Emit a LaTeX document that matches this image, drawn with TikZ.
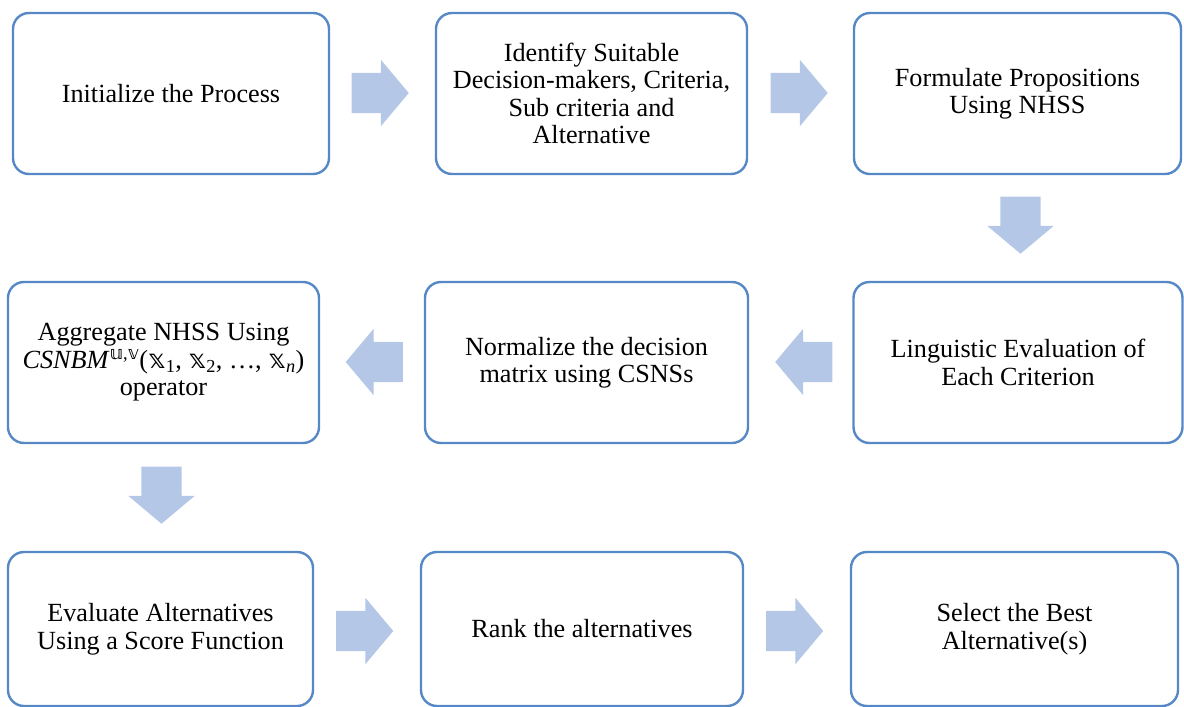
\documentclass[tikz,border=0pt]{standalone}
\usepackage{fontspec}
\setmainfont{Liberation Serif}
\newfontfamily\dblfont{DejaVu Sans}
\usepackage{xcolor}
\usetikzlibrary{shapes.arrows}

\definecolor{boxline}{RGB}{86,136,198}
\definecolor{arrowfill}{RGB}{180,199,231}

\newcommand{\dbl}[1]{{\dblfont #1}}

\begin{document}
\begin{tikzpicture}[
  x=1pt, y=-1pt,
  font=\fontsize{26.2}{27.5}\selectfont,
  stepbox/.style={draw=boxline, line width=2.4pt, rounded corners=16pt, align=center, inner sep=0pt, minimum height=161pt},
  blockarrow/.style={single arrow, draw=none, fill=arrowfill, anchor=tip, minimum height=57pt, minimum width=66pt, single arrow head extend=13pt, single arrow tip angle=100},
  harrow/.style={blockarrow, inner xsep=0pt, inner ysep=20pt},
  varrow/.style={blockarrow, inner xsep=20pt, inner ysep=0pt, shape border rotate=270}
]
\useasboundingbox (0,0) rectangle (1184,707);

% row 1
\node[stepbox, minimum width=316pt] (Init) at (171,93.5) {Initialize the Process};
\node[stepbox, minimum width=311pt] (Identify) at (591.5,93.5) {Identify Suitable\\Decision-makers, Criteria,\\Sub criteria and\\Alternative};
\node[stepbox, minimum width=327pt] (Formulate) at (1017.5,93.5) {Formulate Propositions\\Using NHSS};

% row 2
\node[stepbox, minimum width=311pt] (Aggregate) at (163.5,362.5) {Aggregate NHSS Using\\\textit{CSNBM}\textsuperscript{\dbl{𝕦},\dbl{𝕧}}(\dbl{𝕩}\textsubscript{1}, \dbl{𝕩}\textsubscript{2}, \dots, \dbl{𝕩}\textsubscript{\textit{n}})\\operator};
\node[stepbox, minimum width=323pt] (Normalize) at (586.5,362.5) {Normalize the decision\\matrix using CSNSs};
\node[stepbox, minimum width=329pt] (Linguistic) at (1018,362.5) {Linguistic Evaluation of\\Each Criterion};

% row 3
\node[stepbox, minimum width=305pt, minimum height=154pt] (Evaluate) at (160.5,629) {Evaluate Alternatives\\Using a Score Function};
\node[stepbox, minimum width=322pt, minimum height=154pt] (Rank) at (582,629) {Rank the alternatives};
\node[stepbox, minimum width=327pt, minimum height=154pt] (Select) at (1014.5,629) {Select the Best\\Alternative(s)};

% block arrows, placed by their tips
\node[harrow] (A1) at (409,93) {};
\node[harrow] (A2) at (828,93) {};
\node[varrow] (A3) at (1020.5,254) {};
\node[harrow, shape border rotate=180] (A4) at (775,362) {};
\node[harrow, shape border rotate=180] (A5) at (345.5,362) {};
\node[varrow] (A6) at (161.5,524) {};
\node[harrow] (A7) at (393.5,631) {};
\node[harrow] (A8) at (823.5,631) {};
\end{tikzpicture}
\end{document}
